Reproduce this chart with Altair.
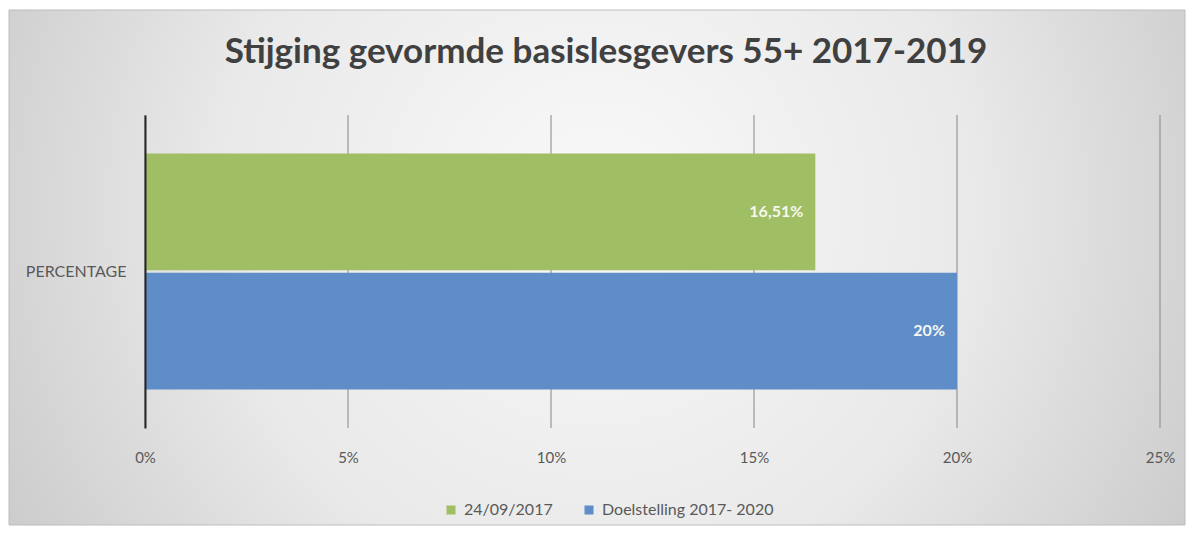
import json
import altair as alt
import pandas as pd

# ---- data ----
title_text = "Stijging gevormde basislesgevers 55+ 2017-2019"
categories = ["PERCENTAGE"]
series = ["24/09/2017", "Doelstelling 2017- 2020"]
values = [16.51, 20.0]
value_labels = ["16,51%", "20%"]
ticks = [0, 5, 10, 15, 20, 25]
tick_labels = ["0%", "5%", "10%", "15%", "20%", "25%"]
colors = ["#A0BE64", "#5F8DC8"]

W, H = 1015, 313
FONT = "Lato"

df = pd.DataFrame({
    "cat": [categories[0]] * len(series),
    "series": series,
    "value": values,
    "label": value_labels,
})
grid_df = pd.DataFrame({"t": ticks})
bg_df = pd.DataFrame({"b": [0]})
title_df = pd.DataFrame({"title": [title_text]})

x_scale = alt.Scale(domain=[ticks[0], ticks[-1]], nice=False, zero=True)
label_expr = f"{json.dumps(tick_labels)}[indexof({json.dumps(ticks)}, datum.value)]"
x_axis = alt.Axis(values=ticks, labelExpr=label_expr, grid=False,
                  domain=False, ticks=False, labelPadding=22, labelFlush=False,
                  labelFont=FONT, labelFontSize=15, labelColor="#595959",
                  zindex=1, title=None)

gradient = alt.RadialGradient(
    gradient="radial",
    stops=[
        alt.GradientStop(offset=0, color="#f9f9f9"),
        alt.GradientStop(offset=0.45, color="#e9e9e9"),
        alt.GradientStop(offset=1, color="#bababa"),
    ],
    x1=0.5, y1=0.45, x2=0.5, y2=0.45, r1=0, r2=0.72,
)

bg = alt.Chart(bg_df).mark_rect(
    fill=gradient, stroke="#bdbdbd", strokeWidth=1
).encode(
    x=alt.value(-136), x2=alt.value(1040), y=alt.value(-105), y2=alt.value(410)
)

title = alt.Chart(title_df).mark_text(
    font=FONT, fontSize=35, fontWeight="bold", color="#404040",
    align="center", baseline="middle"
).encode(text="title:N", x=alt.value(461), y=alt.value(-63))

grid = alt.Chart(grid_df).mark_rule(color="#868686", strokeWidth=1).encode(
    x=alt.X("t:Q", scale=x_scale, axis=x_axis),
    y=alt.value(0), y2=alt.value(H),
)

bars = alt.Chart(df).mark_bar().encode(
    x=alt.X("value:Q", scale=x_scale, axis=x_axis),
    y=alt.Y("cat:N", title=None, sort=categories,
            scale=alt.Scale(paddingInner=0, paddingOuter=0.163),
            axis=alt.Axis(ticks=False, domain=True, domainColor="#262626",
                          domainWidth=2, labelPadding=19, labelFont=FONT,
                          labelFontSize=16, labelColor="#595959", zindex=1)),
    yOffset=alt.YOffset("series:N", sort=series, scale=alt.Scale(paddingInner=0.02)),
    color=alt.Color("series:N", sort=series,
                    scale=alt.Scale(domain=series, range=colors),
                    legend=alt.Legend(orient="none", legendX=298, legendY=387,
                                      direction="horizontal", title=None,
                                      symbolType="square", symbolSize=81,
                                      symbolStrokeWidth=0, labelFont=FONT,
                                      labelFontSize=16, labelColor="#595959",
                                      columnPadding=28, labelOffset=5,
                                      labelLimit=400, padding=0, zindex=1)),
)

text = alt.Chart(df).mark_text(
    align="right", baseline="middle", dx=-12, color="#f7f7f0",
    font=FONT, fontSize=16, fontWeight="bold"
).encode(
    x=alt.X("value:Q", scale=x_scale, axis=x_axis),
    y=alt.Y("cat:N", sort=categories),
    yOffset=alt.YOffset("series:N", sort=series),
    text="label:N",
)

chart = alt.layer(bg, grid, bars, text, title).properties(
    width=W, height=H,
    autosize="none",
    padding={"left": 137, "top": 107, "right": 26, "bottom": 99},
).configure(background="#ffffff").configure_view(stroke=None)

chart.save("out.html", embed_options={"renderer": "svg", "actions": False})
